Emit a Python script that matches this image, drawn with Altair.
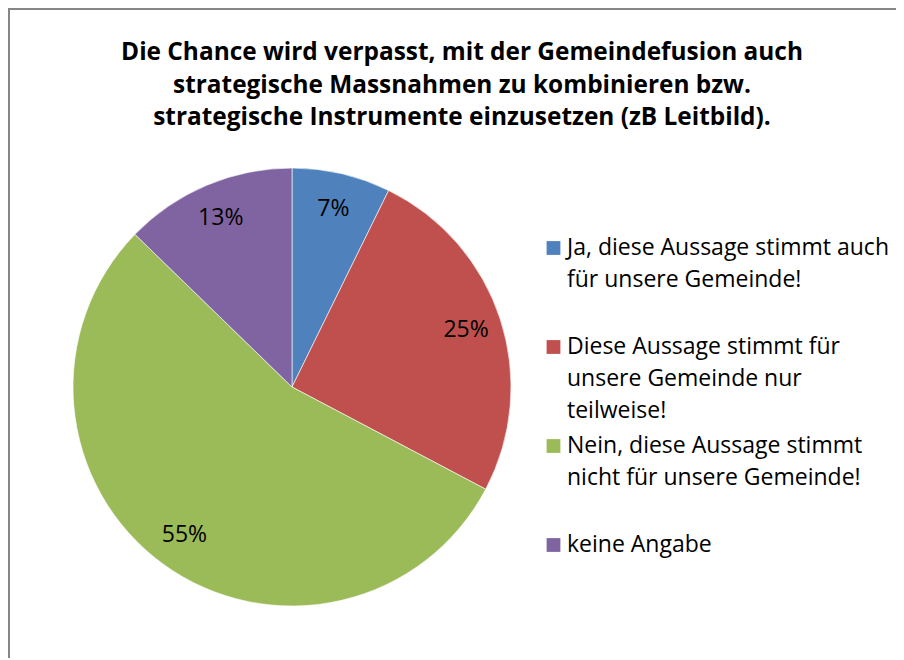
import altair as alt
import pandas as pd

CATEGORIES = [
    "Ja, diese Aussage stimmt auch für unsere Gemeinde!",
    "Diese Aussage stimmt für unsere Gemeinde nur teilweise!",
    "Nein, diese Aussage stimmt nicht für unsere Gemeinde!",
    "keine Angabe",
]
COUNTS = [4, 14, 30, 7]
COLORS = ["#4F81BD", "#C0504D", "#9BBB59", "#8064A2"]
LEGEND_LINES = [
    ["Ja, diese Aussage stimmt auch", "für unsere Gemeinde!"],
    ["Diese Aussage stimmt für", "unsere Gemeinde nur", "teilweise!"],
    ["Nein, diese Aussage stimmt", "nicht für unsere Gemeinde!"],
    ["keine Angabe"],
]
TITLE_LINES = [
    "Die Chance wird verpasst, mit der Gemeindefusion auch",
    "strategische Massnahmen zu kombinieren bzw.",
    "strategische Instrumente einzusetzen (zB Leitbild).",
]

FONT = "Open Sans"
W, H = 888, 650
CX, CY, R = 284, 379, 219

df = pd.DataFrame({
    "category": CATEGORIES,
    "count": COUNTS,
    "order": list(range(len(CATEGORIES))),
    "lines": ["|".join(l) for l in LEGEND_LINES],
})
one = pd.DataFrame({"k": [0]})

color_scale = alt.Scale(domain=CATEGORIES, range=COLORS)
legend_y = alt.Scale(type="point", domain=CATEGORIES, range=[240, 537], padding=0)

base = alt.Chart(df)

pie = base.mark_arc(outerRadius=R, stroke="#ffffff", strokeWidth=0.6).encode(
    theta=alt.Theta("count:Q", stack=True),
    color=alt.Color("category:N", scale=color_scale, legend=None),
    order=alt.Order("order:Q"),
    x=alt.value(CX), y=alt.value(CY),
)

labels = base.transform_joinaggregate(total="sum(count)").transform_calculate(
    pct="round(datum.count / datum.total * 100) + '%'"
).mark_text(radius=183, fontSize=23, font=FONT, color="#000000").encode(
    theta=alt.Theta("count:Q", stack=True),
    detail="category:N",
    order=alt.Order("order:Q"),
    text="pct:N",
    x=alt.value(CX), y=alt.value(CY),
)

squares = base.mark_square(size=190, filled=True, opacity=1).encode(
    x=alt.value(545.5),
    y=alt.Y("category:N", scale=legend_y, axis=None),
    color=alt.Color("category:N", scale=color_scale, legend=None),
)

legend_text = base.transform_calculate(lns="split(datum.lines, '|')").mark_text(
    align="left", baseline="top", dy=-11, fontSize=23, font=FONT,
    lineHeight=32, color="#000000",
).encode(
    x=alt.value(559),
    y=alt.Y("category:N", scale=legend_y, axis=None),
    text="lns:N",
)

title = alt.Chart(one).mark_text(
    align="center", baseline="top", fontSize=24.4, font=FONT, fontWeight="bold",
    lineHeight=32.5, color="#000000",
).encode(x=alt.value(454), y=alt.value(33), text=alt.value(TITLE_LINES))

frame_top = alt.Chart(one).mark_rule(color="#868686", strokeWidth=2).encode(
    x=alt.value(0), x2=alt.value(W), y=alt.value(1)
)
frame_left = alt.Chart(one).mark_rule(color="#868686", strokeWidth=2).encode(
    x=alt.value(1), y=alt.value(0), y2=alt.value(H)
)

chart = alt.layer(
    frame_top, frame_left, pie, labels, squares, legend_text, title
).properties(
    width=W, height=H, padding=0,
    autosize=alt.AutoSizeParams(type="none"),
    background="#ffffff",
).configure_view(stroke=None)

chart.save("out.html", embed_options={"renderer": "svg", "actions": False})
